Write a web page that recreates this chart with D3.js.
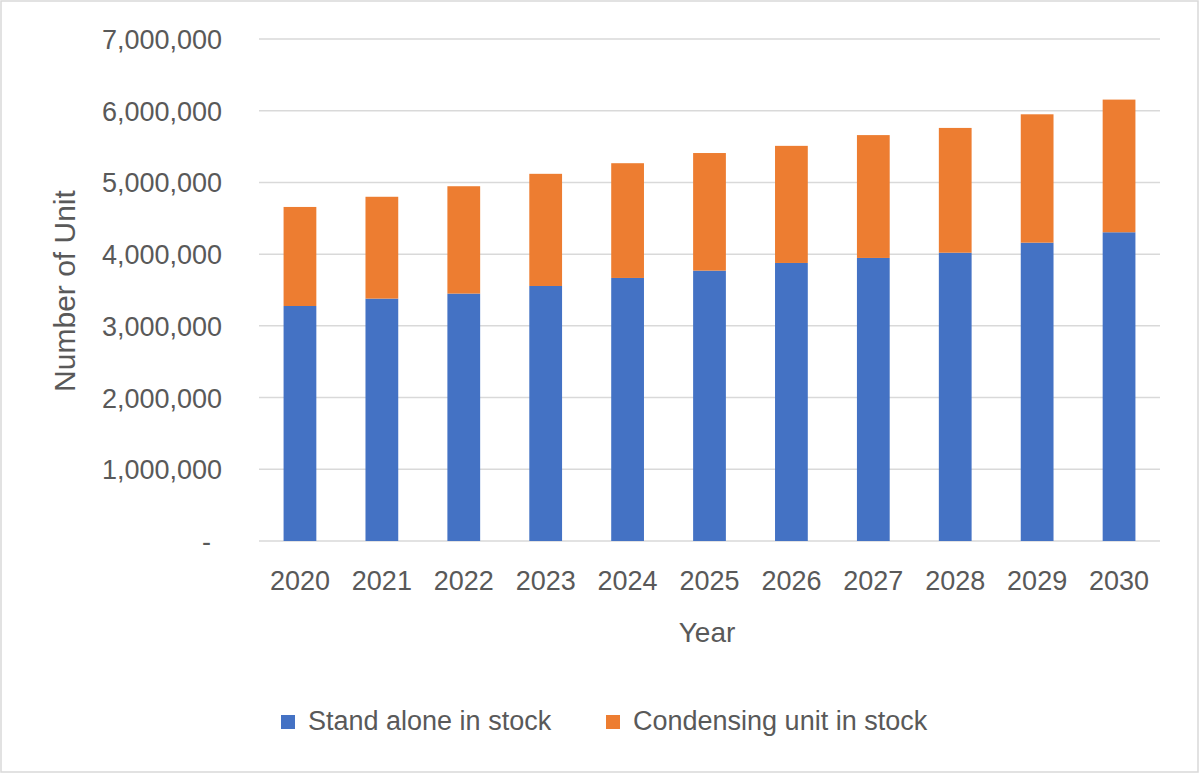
<!DOCTYPE html>
<html><head><meta charset="utf-8">
<script src="https://cdn.jsdelivr.net/npm/d3@7"></script>
<style>body{margin:0;background:#fff}text{font-family:"Liberation Sans",Arial,sans-serif;fill:#595959}</style>
</head><body><svg id="c" width="1200" height="774"></svg>
<script>
const years = ["2020","2021","2022","2023","2024","2025","2026","2027","2028","2029","2030"];
const standAlone = [3277000,3380000,3450000,3556000,3668000,3770000,3877000,3947000,4020000,4160000,4305000];
const condensing = [1381000,1420000,1497000,1564000,1600000,1640000,1633000,1713000,1740000,1790000,1850000];
const seriesNames = ["Stand alone in stock","Condensing unit in stock"];
const yTicks = [0,1000000,2000000,3000000,4000000,5000000,6000000,7000000];

const svg = d3.select("#c");
svg.append("rect").attr("x",1).attr("y",1).attr("width",1197).attr("height",771)
  .attr("fill","#fff").attr("stroke","#d9d9d9").attr("stroke-width",1.5);

const x = d3.scaleBand().domain(years).range([259,1160]).paddingInner(0.6).paddingOuter(0.3);
const y = d3.scaleLinear().domain([0,7000000]).range([541,39]);
const colors = ["#4472C4","#ED7D31"];

// gridlines
svg.append("g").selectAll("line").data(yTicks).join("line")
  .attr("x1",259).attr("x2",1160).attr("y1",d=>y(d)).attr("y2",d=>y(d))
  .attr("stroke","#d9d9d9").attr("stroke-width",1.5);

const rows = years.map((yr,i)=>({year:yr, s:standAlone[i], c:condensing[i]}));
const stack = d3.stack().keys(["s","c"])(rows);
svg.append("g").selectAll("g").data(stack).join("g").attr("fill",(d,i)=>colors[i])
  .selectAll("rect").data(d=>d).join("rect")
  .attr("x",d=>x(d.data.year)).attr("width",x.bandwidth())
  .attr("y",d=>y(d[1])).attr("height",d=>y(d[0])-y(d[1]));

// y axis labels
const fmt = d3.format(",");
const yAxis = d3.axisLeft(y).tickValues(yTicks).tickSize(0).tickPadding(0)
  .tickFormat(d=> d===0 ? "-" : fmt(d));
const gy = svg.append("g").attr("transform","translate(222,0)").call(yAxis);
gy.select(".domain").remove();
gy.selectAll("text").style("font-size","27px").attr("fill","#595959").attr("dy","0.35em")
  .attr("font-family",null);
gy.selectAll(".tick").filter(d=>d===0).select("text").attr("dx","-11");

// x axis labels
const xAxis = d3.axisBottom(x).tickSize(0).tickPadding(0);
const gx = svg.append("g").attr("transform","translate(0,590)").call(xAxis);
gx.select(".domain").remove();
gx.selectAll("text").style("font-size","27px").attr("fill","#595959").attr("dy","0").attr("font-family",null);

// axis titles
svg.append("text").attr("x",707).attr("y",642).attr("text-anchor","middle")
  .style("font-size","28px").text("Year");
svg.append("text").attr("transform","translate(75,291) rotate(-90)").attr("text-anchor","middle")
  .style("font-size","30px").text("Number of Unit");

// legend
const legX = [281,606];
const lg = svg.append("g").selectAll("g").data(seriesNames).join("g")
  .attr("transform",(d,i)=>`translate(${legX[i]},0)`);
lg.append("rect").attr("x",0).attr("y",715).attr("width",14).attr("height",14).attr("fill",(d,i)=>colors[i]);
lg.append("text").attr("x",27).attr("y",730).style("font-size","27px").text(d=>d);
</script></body></html>
